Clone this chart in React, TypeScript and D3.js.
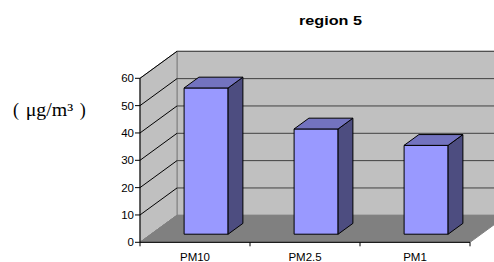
import * as d3 from 'd3';

const categories = ['PM10', 'PM2.5', 'PM1'];
const values = [53.5, 38.5, 32.5];
const yTicks = [0, 10, 20, 30, 40, 50, 60];

export default function App() {
  // plot frame (front plane)
  const x0 = 140;
  const x1 = 470;
  const yBase = 242.3;
  const yTop = 78.3;
  // depth offsets for the 3D box
  const depthX = 37;
  const depthY = -27;

  const x = d3.scaleBand<string>().domain(categories).range([x0, x1]).paddingInner(0).paddingOuter(0);
  const y = d3.scaleLinear().domain([0, 60]).range([yBase, yTop]);

  // project a point at depth d (0 = front, 1 = back)
  const px = (vx: number, d: number) => vx + d * depthX;
  const py = (vy: number, d: number) => vy + d * depthY;
  const pts = (arr: [number, number][]) => arr.map((p) => p.join(',')).join(' ');

  const barW = 44;
  const d1 = 0.3;
  const d2 = 0.7;

  return (
    <svg width={494} height={262} style={{ position: 'absolute', left: 0, top: 0 }} fontFamily="Arial, 'Liberation Sans', sans-serif">
      <rect width={494} height={262} fill="#fff" />
      <text x={299} y={24.5} fontSize={13} fontWeight="bold" textLength={63} lengthAdjust="spacingAndGlyphs">
        region 5
      </text>
      <g fontSize={18} fontFamily="'Times New Roman', 'Liberation Serif', serif">
        <text x={13} y={116}>(</text>
        <text x={25.7} y={116} textLength={47.5} lengthAdjust="spacingAndGlyphs">
          μg/m³
        </text>
        <text x={79.8} y={116}>)</text>
      </g>

      {/* back wall */}
      <rect x={px(x0, 1)} y={py(yTop, 1)} width={x1 - x0} height={yBase - yTop} fill="#c0c0c0" stroke="#808080" />
      {/* left wall */}
      <polygon
        points={pts([
          [x0, yBase],
          [x0, yTop],
          [px(x0, 1), py(yTop, 1)],
          [px(x0, 1), py(yBase, 1)],
        ])}
        fill="#c0c0c0"
        stroke="#808080"
      />
      {/* floor */}
      <polygon
        points={pts([
          [x0, yBase],
          [x1, yBase],
          [px(x1, 1), py(yBase, 1)],
          [px(x0, 1), py(yBase, 1)],
        ])}
        fill="#808080"
        stroke="#808080"
      />
      {/* gridlines */}
      {yTicks.slice(1).map((t) => (
        <g key={t}>
          <line x1={x0} y1={y(t)} x2={px(x0, 1)} y2={py(y(t), 1)} stroke="#000" strokeWidth={1} />
          <line x1={px(x0, 1)} y1={py(y(t), 1)} x2={px(x1, 1)} y2={py(y(t), 1)} stroke="#404040" strokeWidth={1} />
        </g>
      ))}
      <line x1={x0} y1={yBase} x2={px(x0, 1)} y2={py(yBase, 1)} stroke="#808080" />

      {/* bars */}
      {categories.map((c, i) => {
        const bx = (x(c) ?? 0) + (x.bandwidth() - barW) / 2;
        const fx0 = px(bx, d1);
        const fx1 = px(bx + barW, d1);
        const fyT = py(y(values[i]), d1);
        const fyB = py(yBase, d1);
        const dd = d2 - d1;
        return (
          <g key={c} stroke="#000" strokeWidth={1} strokeLinejoin="round">
            <rect x={fx0} y={fyT} width={fx1 - fx0} height={fyB - fyT} fill="#9999ff" />
            <polygon
              points={pts([
                [fx1, fyB],
                [fx1, fyT],
                [fx1 + dd * depthX, fyT + dd * depthY],
                [fx1 + dd * depthX, fyB + dd * depthY],
              ])}
              fill="#4d4d80"
            />
            <polygon
              points={pts([
                [fx0, fyT],
                [fx1, fyT],
                [fx1 + dd * depthX, fyT + dd * depthY],
                [fx0 + dd * depthX, fyT + dd * depthY],
              ])}
              fill="#7373bf"
            />
          </g>
        );
      })}

      {/* axes */}
      <line x1={x0} y1={yBase} x2={x0} y2={yTop} stroke="#000" />
      <line x1={x0} y1={yBase} x2={x1} y2={yBase} stroke="#000" />
      {yTicks.map((t) => (
        <g key={t}>
          <line x1={x0 - 5} y1={y(t)} x2={x0} y2={y(t)} stroke="#000" />
          <text x={x0 - 6} y={y(t) + 4} textAnchor="end" fontSize={11.5}>
            {t}
          </text>
        </g>
      ))}
      {[...categories.map((c) => x(c) ?? 0), x1].map((v, i) => (
        <line key={i} x1={v} y1={yBase} x2={v} y2={yBase + 4} stroke="#000" />
      ))}
      {categories.map((c) => (
        <text key={c} x={(x(c) ?? 0) + x.bandwidth() / 2} y={261} textAnchor="middle" fontSize={11.5}>
          {c}
        </text>
      ))}
    </svg>
  );
}
